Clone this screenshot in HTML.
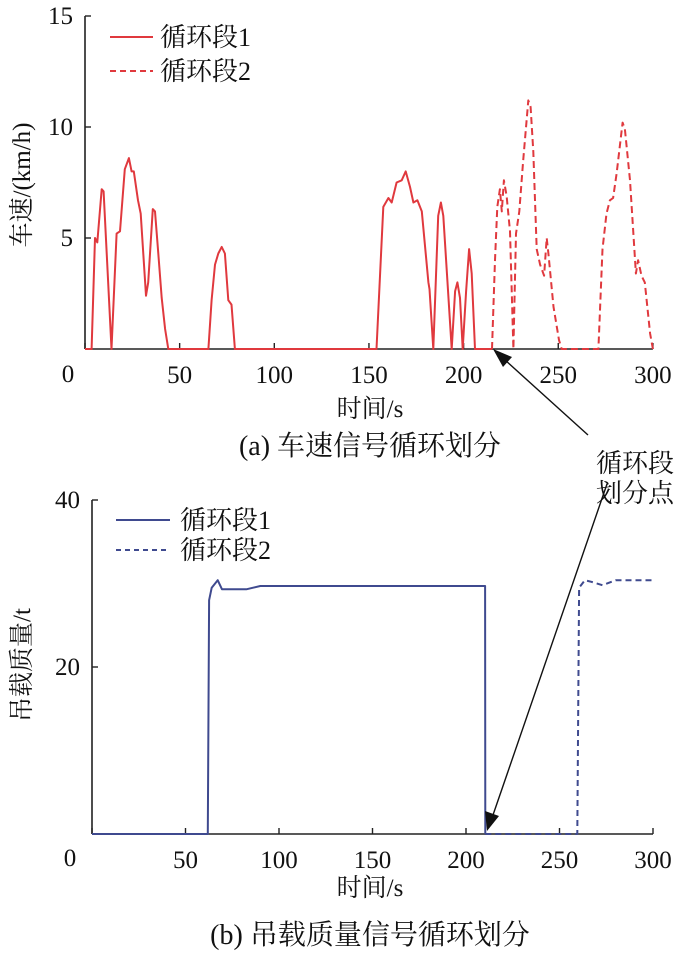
<!DOCTYPE html>
<html><head><meta charset="utf-8"><style>
body{margin:0;background:#fff}
svg{display:block;font-family:"Liberation Serif","Noto Serif CJK SC","Noto Sans CJK SC",serif}
</style></head><body>
<svg id="c" width="700" height="958" viewBox="0 0 700 958"></svg>
<script>
const speedT1=[0,3.5,5.3,6.5,8.8,9.8,14,16.7,18.5,21,23.2,24.6,25.8,28,29.4,32.2,33.4,35.8,37,38.7,40.5,42.3,44,65.2,66.9,68.7,70.4,72.2,73.9,75.7,77.4,79.2,152.3,154,157.6,160.3,162,164.6,167.3,169.4,171.7,173.5,175.6,177.9,181.4,182,184,186.6,188,189.3,193.7,195.5,196.7,198.1,199.5,201.3,202.9,204.3,206,215];
const speedV1=[0,0,5.0,4.8,7.2,7.1,0,5.2,5.3,8.1,8.6,8.0,8.0,6.7,6.1,2.4,3.0,6.3,6.2,4.3,2.3,0.9,0,0,2.2,3.8,4.3,4.6,4.3,2.2,2.0,0,0,0,6.4,6.8,6.6,7.5,7.6,8.0,7.3,6.6,6.7,6.2,3.0,2.7,0,6.0,6.6,6.0,0,2.6,3.0,2.3,0,2.6,4.5,3.4,0,0];
const speedT2=[215,216.6,217.8,219.2,220.2,221.3,222.7,224.5,226.3,227.7,229.4,231.5,234.2,235.4,236.8,238.6,240.4,242.5,243.9,244.8,247.5,250.4,251.8,271.2,273.4,275.5,277.3,279,280.8,284,285.2,287.9,291,292.2,294,295.7,298.5,300];
const speedV2=[0,4.0,6.4,7.2,6.2,7.6,6.9,5.3,0,5.2,6.2,8.5,11.2,10.9,8.9,4.5,3.8,3.3,5.0,4.3,1.9,0.4,0,0,4.5,6.1,6.7,6.8,7.9,10.2,9.9,7.6,3.4,4.0,3.3,3.0,0.7,0];
const loadT1=[0,61.9,62.6,64,67.2,69.5,82.5,90,150,210.2,210.3];
const loadV1=[0,0,28,29.5,30.4,29.3,29.3,29.7,29.7,29.7,0];
const loadT2=[210.3,259.5,260.5,263.6,267,273,280,300];
const loadV2=[0,0,29.5,30.4,30.2,29.8,30.4,30.4];
const xTicks=[0,50,100,150,200,250,300];
const speedTicks=[5,10,15];
const loadTicks=[20,40];

const svg=document.getElementById('c');
const NS='http://www.w3.org/2000/svg';
function mk(tag,attrs,parent){const e=document.createElementNS(NS,tag);for(const k in attrs)e.setAttribute(k,attrs[k]);(parent||svg).appendChild(e);return e;}
function txt(s,x,y,size,anchor,parent){const t=mk('text',{x:x,y:y,'font-size':size,'text-anchor':anchor||'middle',fill:'#111'},parent);t.textContent=s;return t;}

const x1=t=>85+t*1.893, y1=v=>349-v*22.2;
const x2=t=>92+t*1.87, y2=v=>834-v*8.35;

function axes(xf,yf,yTicks,ymax,g){
  mk('line',{x1:xf(0),y1:yf(0),x2:xf(300),y2:yf(0),stroke:'#222','stroke-width':1.6},g);
  mk('line',{x1:xf(0),y1:yf(0),x2:xf(0),y2:yf(ymax),stroke:'#222','stroke-width':1.6},g);
  xTicks.forEach(t=>{
    const l=mk('line',{x1:xf(t),y1:yf(0),x2:xf(t),y2:yf(0)-6,stroke:'#222','stroke-width':1.4},g);
    
    
    if(t===0)return;
    const lab=txt(String(t),xf(t),yf(0)+34,25,'middle',g);
    
    
  });
  yTicks.forEach(v=>{
    const l=mk('line',{x1:xf(0),y1:yf(v),x2:xf(0)+6,y2:yf(v),stroke:'#222','stroke-width':1.4},g);
    
    
    const lab=txt(String(v),xf(0)-12,yf(v)+8,25,'end',g);
    
    
  });
}
function line(ts,vs,xf,yf,color,dash,name,g){
  const d=ts.map((t,i)=>(i?'L':'M')+xf(t).toFixed(1)+','+yf(vs[i]).toFixed(1)).join('');
  const p=mk('path',{d:d,fill:'none',stroke:color,'stroke-width':2,'stroke-dasharray':dash||'none','stroke-linejoin':'round'},g);
  
  
}

const gA=mk('g',{});


axes(x1,y1,speedTicks,15,gA);
const z1=txt('0',68,382,25,'middle',gA);


const red='#e0393e';
line(speedT1,speedV1,x1,y1,red,null,'speed-series-cycle-1',gA);
line(speedT2,speedV2,x1,y1,red,'7,4','speed-series-cycle-2',gA);
const yl1=txt('车速/(km/h)',0,0,25,'middle',gA);
yl1.setAttribute('transform','translate(30,185) rotate(-90)');


const xl1=txt('时间/s',370,417,25,'middle',gA);


const cap1=txt('(a)  车速信号循环划分',370,455,28,'middle',gA);


mk('line',{x1:110,y1:37,x2:153,y2:37,stroke:red,'stroke-width':2},gA);
const le1=txt('循环段1',160,46,26,'start',gA);


mk('line',{x1:110,y1:71,x2:153,y2:71,stroke:red,'stroke-width':2,'stroke-dasharray':'6,4'},gA);
const le2=txt('循环段2',160,80,26,'start',gA);



const gB=mk('g',{});


axes(x2,y2,loadTicks,40,gB);
const z2=txt('0',70,866,25,'middle',gB);


const blue='#3f4a8f';
line(loadT1,loadV1,x2,y2,blue,null,'load-series-cycle-1',gB);
line(loadT2,loadV2,x2,y2,blue,'6,4','load-series-cycle-2',gB);
const yl2=txt('吊载质量/t',0,0,25,'middle',gB);
yl2.setAttribute('transform','translate(30,665) rotate(-90)');


const xl2=txt('时间/s',370,896,25,'middle',gB);


const cap2=txt('(b)  吊载质量信号循环划分',370,944,28,'middle',gB);


mk('line',{x1:116,y1:520,x2:170,y2:520,stroke:blue,'stroke-width':2},gB);
const le3=txt('循环段1',180,529,26,'start',gB);


mk('line',{x1:116,y1:550,x2:170,y2:550,stroke:blue,'stroke-width':2,'stroke-dasharray':'5,4'},gB);
const le4=txt('循环段2',180,559,26,'start',gB);



const gN=mk('g',{});


txt('循环段',635,472,26,'middle',gN);
txt('划分点',635,502,26,'middle',gN);
mk('line',{x1:588,y1:435,x2:505,y2:360,stroke:'#111','stroke-width':1.4},gN);
mk('polygon',{points:'493,349 512,357 503,367',fill:'#111'},gN);
mk('line',{x1:607,y1:484,x2:493,y2:815,stroke:'#111','stroke-width':1.4},gN);
mk('polygon',{points:'487,831 485,811 499,816',fill:'#111'},gN);
</script>
</body></html>
